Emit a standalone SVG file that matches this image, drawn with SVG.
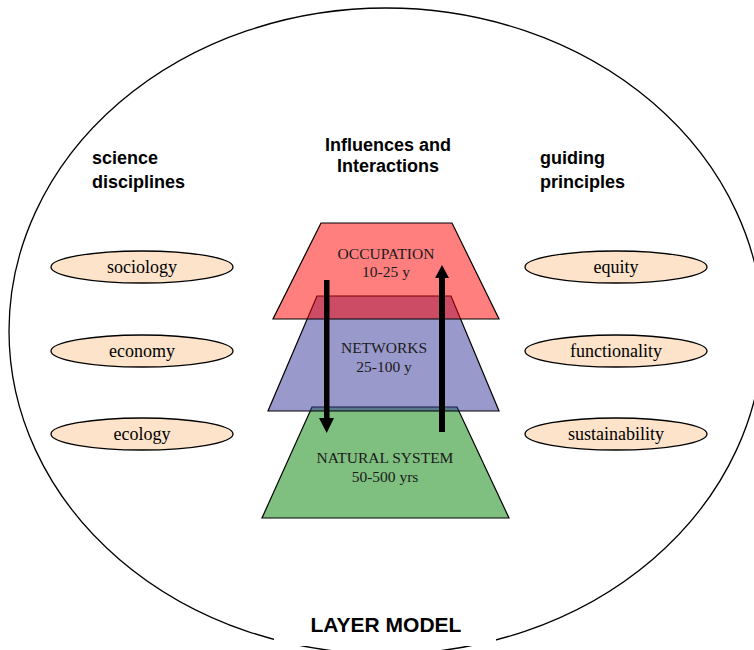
<svg xmlns="http://www.w3.org/2000/svg" width="754" height="650" viewBox="0 0 754 650">
<style>
.head{font-family:"Liberation Sans",Arial,sans-serif;font-weight:bold;font-size:18px;fill:#000}
.big{font-size:21px}
.lbl{font-family:"Liberation Serif","Times New Roman",serif;font-size:18px;fill:#000;text-anchor:middle}
.lay{font-family:"Liberation Serif","Times New Roman",serif;font-size:15.5px;fill:#1a1a1a;text-anchor:middle}
.oval{fill:#fde3ca;stroke:#000;stroke-width:1.3}
.trap{stroke:#000;stroke-width:1.2}
</style>
<rect width="754" height="650" fill="#fff"/>
<g id="frame">
<ellipse cx="386" cy="331" rx="377" ry="323" fill="none" stroke="#000" stroke-width="1.3"/>
<rect x="274" y="598" width="222" height="48" fill="#fff"/>
<text class="head big" x="386" y="632" text-anchor="middle">LAYER MODEL</text>
</g>
<g id="headings">
<text class="head" x="92" y="164">science</text>
<text class="head" x="92" y="188">disciplines</text>
<text class="head" x="388" y="151" text-anchor="middle">Influences and</text>
<text class="head" x="388" y="172" text-anchor="middle">Interactions</text>
<text class="head" x="540" y="164">guiding</text>
<text class="head" x="540" y="188">principles</text>
</g>
<g id="natural">
<polygon class="trap" points="312,407 457,407 509,518 262,518" fill="#008000" fill-opacity="0.5"/>
<text class="lay" x="385" y="463">NATURAL SYSTEM</text>
<text class="lay" x="385" y="482">50-500 yrs</text>
</g>
<g id="networks">
<polygon class="trap" points="317,296 451,296 499,411 268,411" fill="#333399" fill-opacity="0.5"/>
<text class="lay" x="384" y="353">NETWORKS</text>
<text class="lay" x="384" y="372">25-100 y</text>
</g>
<g id="occupation">
<polygon class="trap" points="321,223 452,223 499,319 273,319" fill="#ff0000" fill-opacity="0.5"/>
<text class="lay" x="386" y="259">OCCUPATION</text>
<text class="lay" x="386" y="277">10-25 y</text>
</g>
<g id="connectors">
<path d="M324,280 H329.5 V418 H334 L326.7,433 L319,418 H324 Z" fill="#000"/>
<path d="M439,432 H445 V278 H449 L442,265 L435,278 H439 Z" fill="#000"/>
</g>
<g id="sociology"><ellipse class="oval" cx="142" cy="267" rx="91" ry="16"/><text class="lbl" x="142" y="273">sociology</text></g>
<g id="economy"><ellipse class="oval" cx="142" cy="351" rx="91" ry="16"/><text class="lbl" x="142" y="357">economy</text></g>
<g id="ecology"><ellipse class="oval" cx="142" cy="434" rx="91" ry="16"/><text class="lbl" x="142" y="440">ecology</text></g>
<g id="equity"><ellipse class="oval" cx="616" cy="267" rx="91" ry="16"/><text class="lbl" x="616" y="273">equity</text></g>
<g id="functionality"><ellipse class="oval" cx="616" cy="351" rx="91" ry="16"/><text class="lbl" x="616" y="357">functionality</text></g>
<g id="sustainability"><ellipse class="oval" cx="616" cy="434" rx="91" ry="16"/><text class="lbl" x="616" y="440">sustainability</text></g>
</svg>
